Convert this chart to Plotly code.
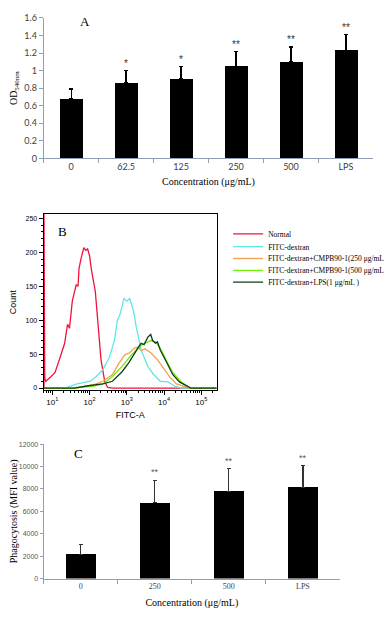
import plotly.graph_objects as go

# page has an 8 px body margin; figure sized to fit the 392x617 window
OFF = 8
W, H = 392 - OFF, 617 - OFF

# ---------------- Panel A data ----------------
conc_a = ["0", "62.5", "125", "250", "500", "LPS"]
od_mean = [0.68, 0.86, 0.91, 1.05, 1.10, 1.23]
od_err = [0.11, 0.14, 0.135, 0.165, 0.17, 0.18]
sig_a = ["", "*", "*", "**", "**", "**"]

# ---------------- Panel B data (FITC-A intensity vs count) ----------------
normal_x = [6.0, 6.0, 6.3, 6.7, 8.9, 11.9, 16.0, 21.5, 25.7, 29.0, 34.5, 43.8, 49.2, 52.2, 58.7,
            70.2, 78.9, 88.9, 100, 112, 143, 170, 203, 257, 307, 412, 257000]
normal_y = [0, 260, 15, 10, 16, 23, 44, 66, 94, 88, 128, 152, 150, 176, 190,
            207, 203, 205, 195, 175, 142, 89, 42, 9, 1, 0, 0]

fitc_x = [6, 21.5, 46.4, 70.2, 106, 151, 228, 345, 464, 555, 662, 838, 1000, 1194, 1511,
          1803, 2424, 3665, 5224, 7888, 12680, 19150, 28960, 257000]
fitc_y = [0, 0, 6, 8, 10, 17, 27, 46, 70, 99, 109, 132, 128, 132, 114,
          89, 56, 32, 20, 10, 9, 3, 0, 0]

c250_x = [6, 32.6, 70.2, 151, 228, 412, 623, 889, 1194, 1603, 2032, 2424, 3070, 4375,
          6622, 9425, 14260, 21540, 30680, 46420, 257000]
c250_y = [0, 0, 2, 6, 10, 20, 37, 49, 52, 59, 60, 55, 58, 52,
          42, 30, 16, 6, 3, 0, 0]

c500_x = [6, 38.9, 127, 228, 412, 745, 1343, 2424, 3665, 4375, 5875, 7888, 11940, 17010,
          28960, 46420, 62350, 257000]
c500_y = [0, 0, 3, 6, 17, 32, 49, 63, 68, 70, 68, 59, 39, 23,
          9, 1, 0, 0]

lps_x = [6, 38.9, 83.8, 228, 412, 745, 1125, 1603, 2032, 2424, 2897, 3665, 4375, 4920,
         5875, 6622, 7888, 11940, 17010, 25700, 38900, 52250, 257000]
lps_y = [0, 0, 3, 6, 10, 24, 37, 52, 60, 66, 64, 75, 79, 70,
         66, 68, 56, 37, 20, 9, 3, 0, 0]

series_names = ["Normal", "FITC-dextran", "FITC-dextran+CMPB90-1(250 μg/mL)",
                "FITC-dextran+CMPB90-1(500 μg/mL)", "FITC-dextran+LPS(1 μg/mL )"]
series_colors = ["#f0143c", "#5ee8e4", "#f0a050", "#6ff000", "#0f3f14"]

decade_vals = [10, 100, 1000, 10000, 100000]
decade_text = ["10<sup>1</sup>", "10<sup>2</sup>", "10<sup>3</sup>", "10<sup>4</sup>", "10<sup>5</sup>"]

# ---------------- Panel C data ----------------
conc_c = ["0", "250", "500", "LPS"]
mfi_mean = [2150, 6780, 7800, 8150]
mfi_err = [900, 2000, 2010, 1920]
sig_c = ["", "**", "**", "**"]


def fx(px):
    return (px - OFF) / W


def fy(px):
    return 1 - (px - OFF) / H


axis_gray = "#8e9eb3"
serif = "Liberation Serif"
sans = "Liberation Sans"

fig = go.Figure()

# Panel A bars
fig.add_trace(go.Bar(
    x=conc_a, y=od_mean, width=0.42, marker=dict(color="black", line=dict(width=0)),
    error_y=dict(type="data", array=od_err, arrayminus=[0] * len(od_err), symmetric=False,
                 color="black", thickness=1.3, width=2),
    xaxis="x", yaxis="y", showlegend=False))

# Panel B histograms
for i, (xs, ys) in enumerate([(normal_x, normal_y), (fitc_x, fitc_y), (c250_x, c250_y),
                              (c500_x, c500_y), (lps_x, lps_y)]):
    fig.add_trace(go.Scatter(
        x=xs, y=ys, mode="lines", name=series_names[i],
        line=dict(color=series_colors[i], width=1.3),
        xaxis="x2", yaxis="y2", showlegend=True,
        legend="legend" if i == 0 else f"legend{i+1}"))

# Panel C bars
fig.add_trace(go.Bar(
    x=conc_c, y=mfi_mean, width=0.4, marker=dict(color="black", line=dict(width=0)),
    error_y=dict(type="data", array=mfi_err, arrayminus=[0] * len(mfi_err), symmetric=False,
                 color="#333333", thickness=1.3, width=2),
    xaxis="x3", yaxis="y3", showlegend=False))

annotations = []
for i, (m, e, s) in enumerate(zip(od_mean, od_err, sig_a)):
    if s:
        annotations.append(dict(x=i, y=m + e, xref="x", yref="y", text=s, showarrow=False,
                                yanchor="bottom", yshift=0, font=dict(family=sans, size=10, color="#333")))
for i, (m, e, s) in enumerate(zip(mfi_mean, mfi_err, sig_c)):
    if s:
        annotations.append(dict(x=i, y=m + e, xref="x3", yref="y3", text=s, showarrow=False,
                                yanchor="bottom", yshift=1, font=dict(family=sans, size=9, color="#556")))

for txt, px, py in [("A", 81, 16), ("B", 58, 230), ("C", 74, 456)]:
    annotations.append(dict(x=fx(px), y=fy(py), xref="paper", yref="paper", text=txt, showarrow=False,
                            xanchor="center", yanchor="middle",
                            font=dict(family=serif, size=13, color="black")))

legend_rows = [232, 245, 257, 269, 281]
legends = {}
for i, row in enumerate(legend_rows):
    key = "legend" if i == 0 else f"legend{i+1}"
    legends[key] = dict(x=fx(231), y=fy(row), xanchor="left", yanchor="middle",
                        bgcolor="rgba(0,0,0,0)", borderwidth=0,
                        font=dict(family=serif, size=7.5, color="black"),
                        tracegroupgap=0, itemwidth=30)

fig.update_layout(
    width=W, height=H, margin=dict(l=0, r=0, t=0, b=0),
    paper_bgcolor="white", plot_bgcolor="white",
    bargap=0, showlegend=True,
    annotations=annotations,
    **legends,
    xaxis=dict(domain=[fx(38), fx(383)], anchor="y", type="category", range=[-0.5, 5.5],
               showline=True, linecolor=axis_gray, linewidth=1, tickangle=0,
               ticks="outside", tickson="boundaries", ticklen=4, tickcolor=axis_gray,
               tickfont=dict(family="Lato", size=9, color="#404040"),
               title=dict(text="Concentration (μg/mL)", font=dict(family=serif, size=10, color="black"),
                          standoff=6)),
    yaxis=dict(domain=[fy(155), fy(12)], anchor="x", range=[0, 1.6], dtick=0.2,
               showline=True, linecolor=axis_gray, linewidth=1, showgrid=False, zeroline=False,
               ticks="outside", ticklen=4, tickcolor=axis_gray,
               tickfont=dict(family="Lato", size=9, color="#404040"),
               title=dict(text="OD<sub>540nm</sub>", font=dict(family=serif, size=10, color="black"),
                          standoff=8)),
    xaxis2=dict(domain=[fx(38), fx(219)], anchor="y2", type="log",
                range=[0.77, 5.41], tickvals=decade_vals, ticktext=decade_text,
                showline=True, mirror=True, linecolor="black", linewidth=1, showgrid=False,
                zeroline=False, ticks="outside", ticklen=4, tickcolor="black",
                minor=dict(ticks="outside", ticklen=2, tickcolor="black", dtick="D1", showgrid=False),
                tickfont=dict(family=sans, size=8, color="black"),
                title=dict(text="FITC-A", font=dict(family=sans, size=9, color="black"), standoff=6)),
    yaxis2=dict(domain=[fy(391), fy(212)], anchor="x2", range=[-3, 256], dtick=50,
                showline=True, mirror=True, linecolor="black", linewidth=1, showgrid=False,
                zeroline=False, ticks="outside", ticklen=4, tickcolor="black",
                minor=dict(ticks="outside", ticklen=2, tickcolor="black", dtick=10, showgrid=False),
                tickfont=dict(family=sans, size=7, color="black"),
                title=dict(text="Count", font=dict(family=sans, size=9, color="black"), standoff=8)),
    xaxis3=dict(domain=[fx(38), fx(348)], anchor="y3", type="category", range=[-0.5, 3.5],
                showline=True, linecolor=axis_gray, linewidth=1, tickangle=0,
                ticks="outside", tickson="boundaries", ticklen=4, tickcolor=axis_gray,
                tickfont=dict(family=serif, size=8, color="#444"),
                title=dict(text="Concentration (μg/mL)", font=dict(family=serif, size=10, color="black"),
                           standoff=8)),
    yaxis3=dict(domain=[fy(583), fy(446)], anchor="x3", range=[0, 12000], dtick=2000,
                showline=True, linecolor=axis_gray, linewidth=1, showgrid=False, zeroline=False,
                ticks="outside", ticklen=3, tickcolor=axis_gray, tickformat="d",
                tickfont=dict(family=sans, size=7, color="#555"),
                title=dict(text="Phagocytosis (MFI value)", font=dict(family=serif, size=10, color="black"),
                           standoff=4)),
)

fig.write_html("out.html")
